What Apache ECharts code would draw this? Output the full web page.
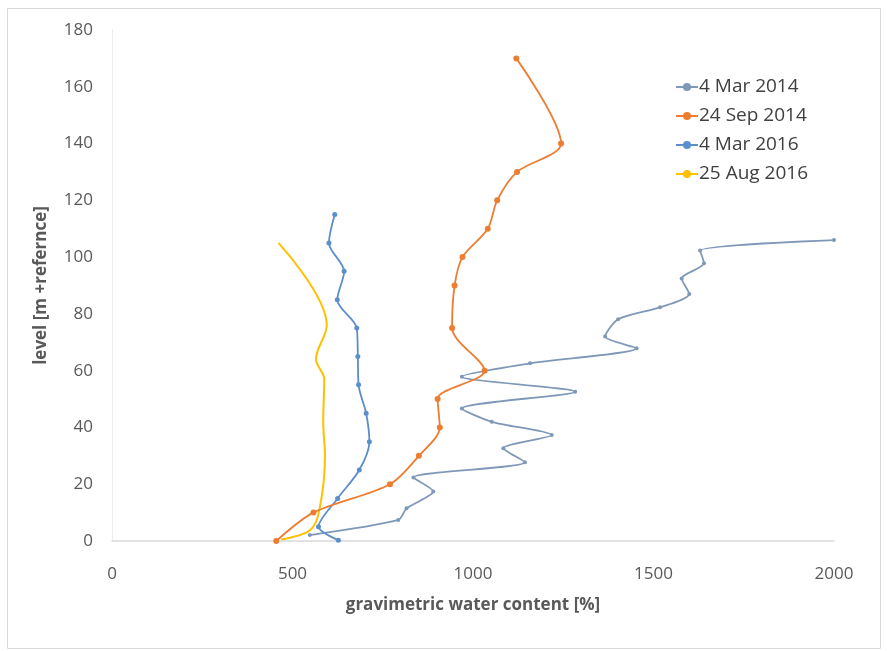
<!DOCTYPE html>
<html>
<head>
<meta charset="utf-8">
<script src="https://cdn.jsdelivr.net/npm/echarts@6/dist/echarts.min.js"></script>
<style>
  html, body { margin: 0; padding: 0; background: #ffffff; }
  #chart { width: 887px; height: 651px; }
</style>
</head>
<body>
<div id="chart"></div>
<script>
// Water content profiles: each series pairs a water content [%] with a level [m].
const seriesNames = ['4 Mar 2014', '24 Sep 2014', '4 Mar 2016', '25 Aug 2016'];

const mar2014Content = [548, 793, 816, 890, 835, 1144, 1084, 1218, 1052, 969, 1283, 969, 1158, 1453, 1366, 1402, 1518, 1599, 1578, 1640, 1629, 2000];
const mar2014Level   = [2.1, 7.4, 11.5, 17.4, 22.4, 27.7, 32.7, 37.3, 42, 46.7, 52.6, 57.9, 62.6, 67.9, 72, 78.1, 82.3, 87, 92.5, 97.8, 102.3, 106];

const sep2014Content = [455, 558, 770, 850, 908, 902, 1032, 942, 949, 971, 1041, 1067, 1122, 1244, 1120];
const sep2014Level   = [0, 10, 20, 30, 40, 50, 60, 75, 90, 100, 110, 120, 130, 140, 170];

const mar2016Content = [627, 572, 625, 685, 713, 704, 683, 681, 678, 624, 643, 601, 617];
const mar2016Level   = [0.3, 5, 15, 25, 35, 45, 55, 65, 75, 85, 95, 105, 115];

const aug2016Content = [468, 550, 576, 590, 585, 588, 565, 595, 461];
const aug2016Level   = [0.5, 4, 12, 30, 42, 57, 64, 76, 105];

const xTicks = [0, 500, 1000, 1500, 2000];
const yTicks = [0, 20, 40, 60, 80, 100, 120, 140, 160, 180];

function pairs(xs, ys) { return xs.map((v, i) => [v, ys[i]]); }

const textColor = '#595959';
const fontFamily = '"Open Sans", "Liberation Sans", sans-serif';

const chart = echarts.init(document.getElementById('chart'), null, { renderer: 'canvas' });

chart.setOption({
  animation: false,
  backgroundColor: '#ffffff',
  textStyle: { fontFamily: fontFamily },
  graphic: [{
    type: 'rect',
    shape: { x: 7.5, y: 8.5, width: 873, height: 640 },
    style: { fill: 'none', stroke: '#d9d9d9', lineWidth: 1 },
    silent: true
  }],
  grid: { left: 112, right: 53, top: 30, bottom: 110, containLabel: false },
  legend: {
    orient: 'vertical',
    left: 670,
    top: 72,
    itemWidth: 22,
    itemHeight: 10,
    itemGap: 9,
    data: seriesNames,
    textStyle: { fontSize: 19, color: '#404040', fontFamily: fontFamily, lineHeight: 20, padding: [0, 0, 0, -4] }
  },
  xAxis: {
    type: 'value',
    min: xTicks[0],
    max: xTicks[xTicks.length - 1],
    interval: 500,
    name: 'gravimetric water content [%]',
    nameLocation: 'middle',
    nameGap: 56,
    nameTextStyle: { fontSize: 17, fontWeight: 'bold', color: textColor, fontFamily: fontFamily },
    axisLine: { show: true, lineStyle: { color: '#d9d9d9', width: 1.5 } },
    axisTick: { show: false },
    splitLine: { show: false },
    axisLabel: { margin: 25, fontSize: 17, color: textColor, fontFamily: fontFamily, formatter: (v) => String(v) }
  },
  yAxis: {
    type: 'value',
    min: yTicks[0],
    max: yTicks[yTicks.length - 1],
    interval: 20,
    name: 'level [m +refernce]',
    nameLocation: 'middle',
    nameGap: 62,
    nameRotate: 90,
    nameTextStyle: { fontSize: 17, fontWeight: 'bold', color: textColor, fontFamily: fontFamily },
    axisLine: { show: true, lineStyle: { color: '#ececec', width: 1 } },
    axisTick: { show: false },
    splitLine: { show: false },
    axisLabel: { margin: 19, fontSize: 17, color: textColor, fontFamily: fontFamily, formatter: (v) => String(v) }
  },
  series: [
    {
      name: seriesNames[0],
      type: 'line',
      data: pairs(mar2014Content, mar2014Level),
      smooth: 0.25,
      symbol: 'circle',
      symbolSize: 4,
      lineStyle: { color: '#7f98b8', width: 1.8 },
      itemStyle: { color: '#7f98b8' },
      z: 2
    },
    {
      name: seriesNames[1],
      type: 'line',
      data: pairs(sep2014Content, sep2014Level),
      smooth: 0.3,
      symbol: 'circle',
      symbolSize: 6,
      lineStyle: { color: '#ed7d31', width: 1.8 },
      itemStyle: { color: '#ed7d31' },
      z: 4
    },
    {
      name: seriesNames[2],
      type: 'line',
      data: pairs(mar2016Content, mar2016Level),
      smooth: 0.3,
      symbol: 'circle',
      symbolSize: 5,
      lineStyle: { color: '#5b8fcc', width: 1.8 },
      itemStyle: { color: '#5b8fcc' },
      z: 3
    },
    {
      name: seriesNames[3],
      type: 'line',
      data: pairs(aug2016Content, aug2016Level),
      smooth: 0.35,
      showSymbol: false,
      symbol: 'none',
      lineStyle: { color: '#ffc000', width: 2 },
      itemStyle: { color: '#ffc000' },
      z: 1
    }
  ]
});
</script>
</body>
</html>
